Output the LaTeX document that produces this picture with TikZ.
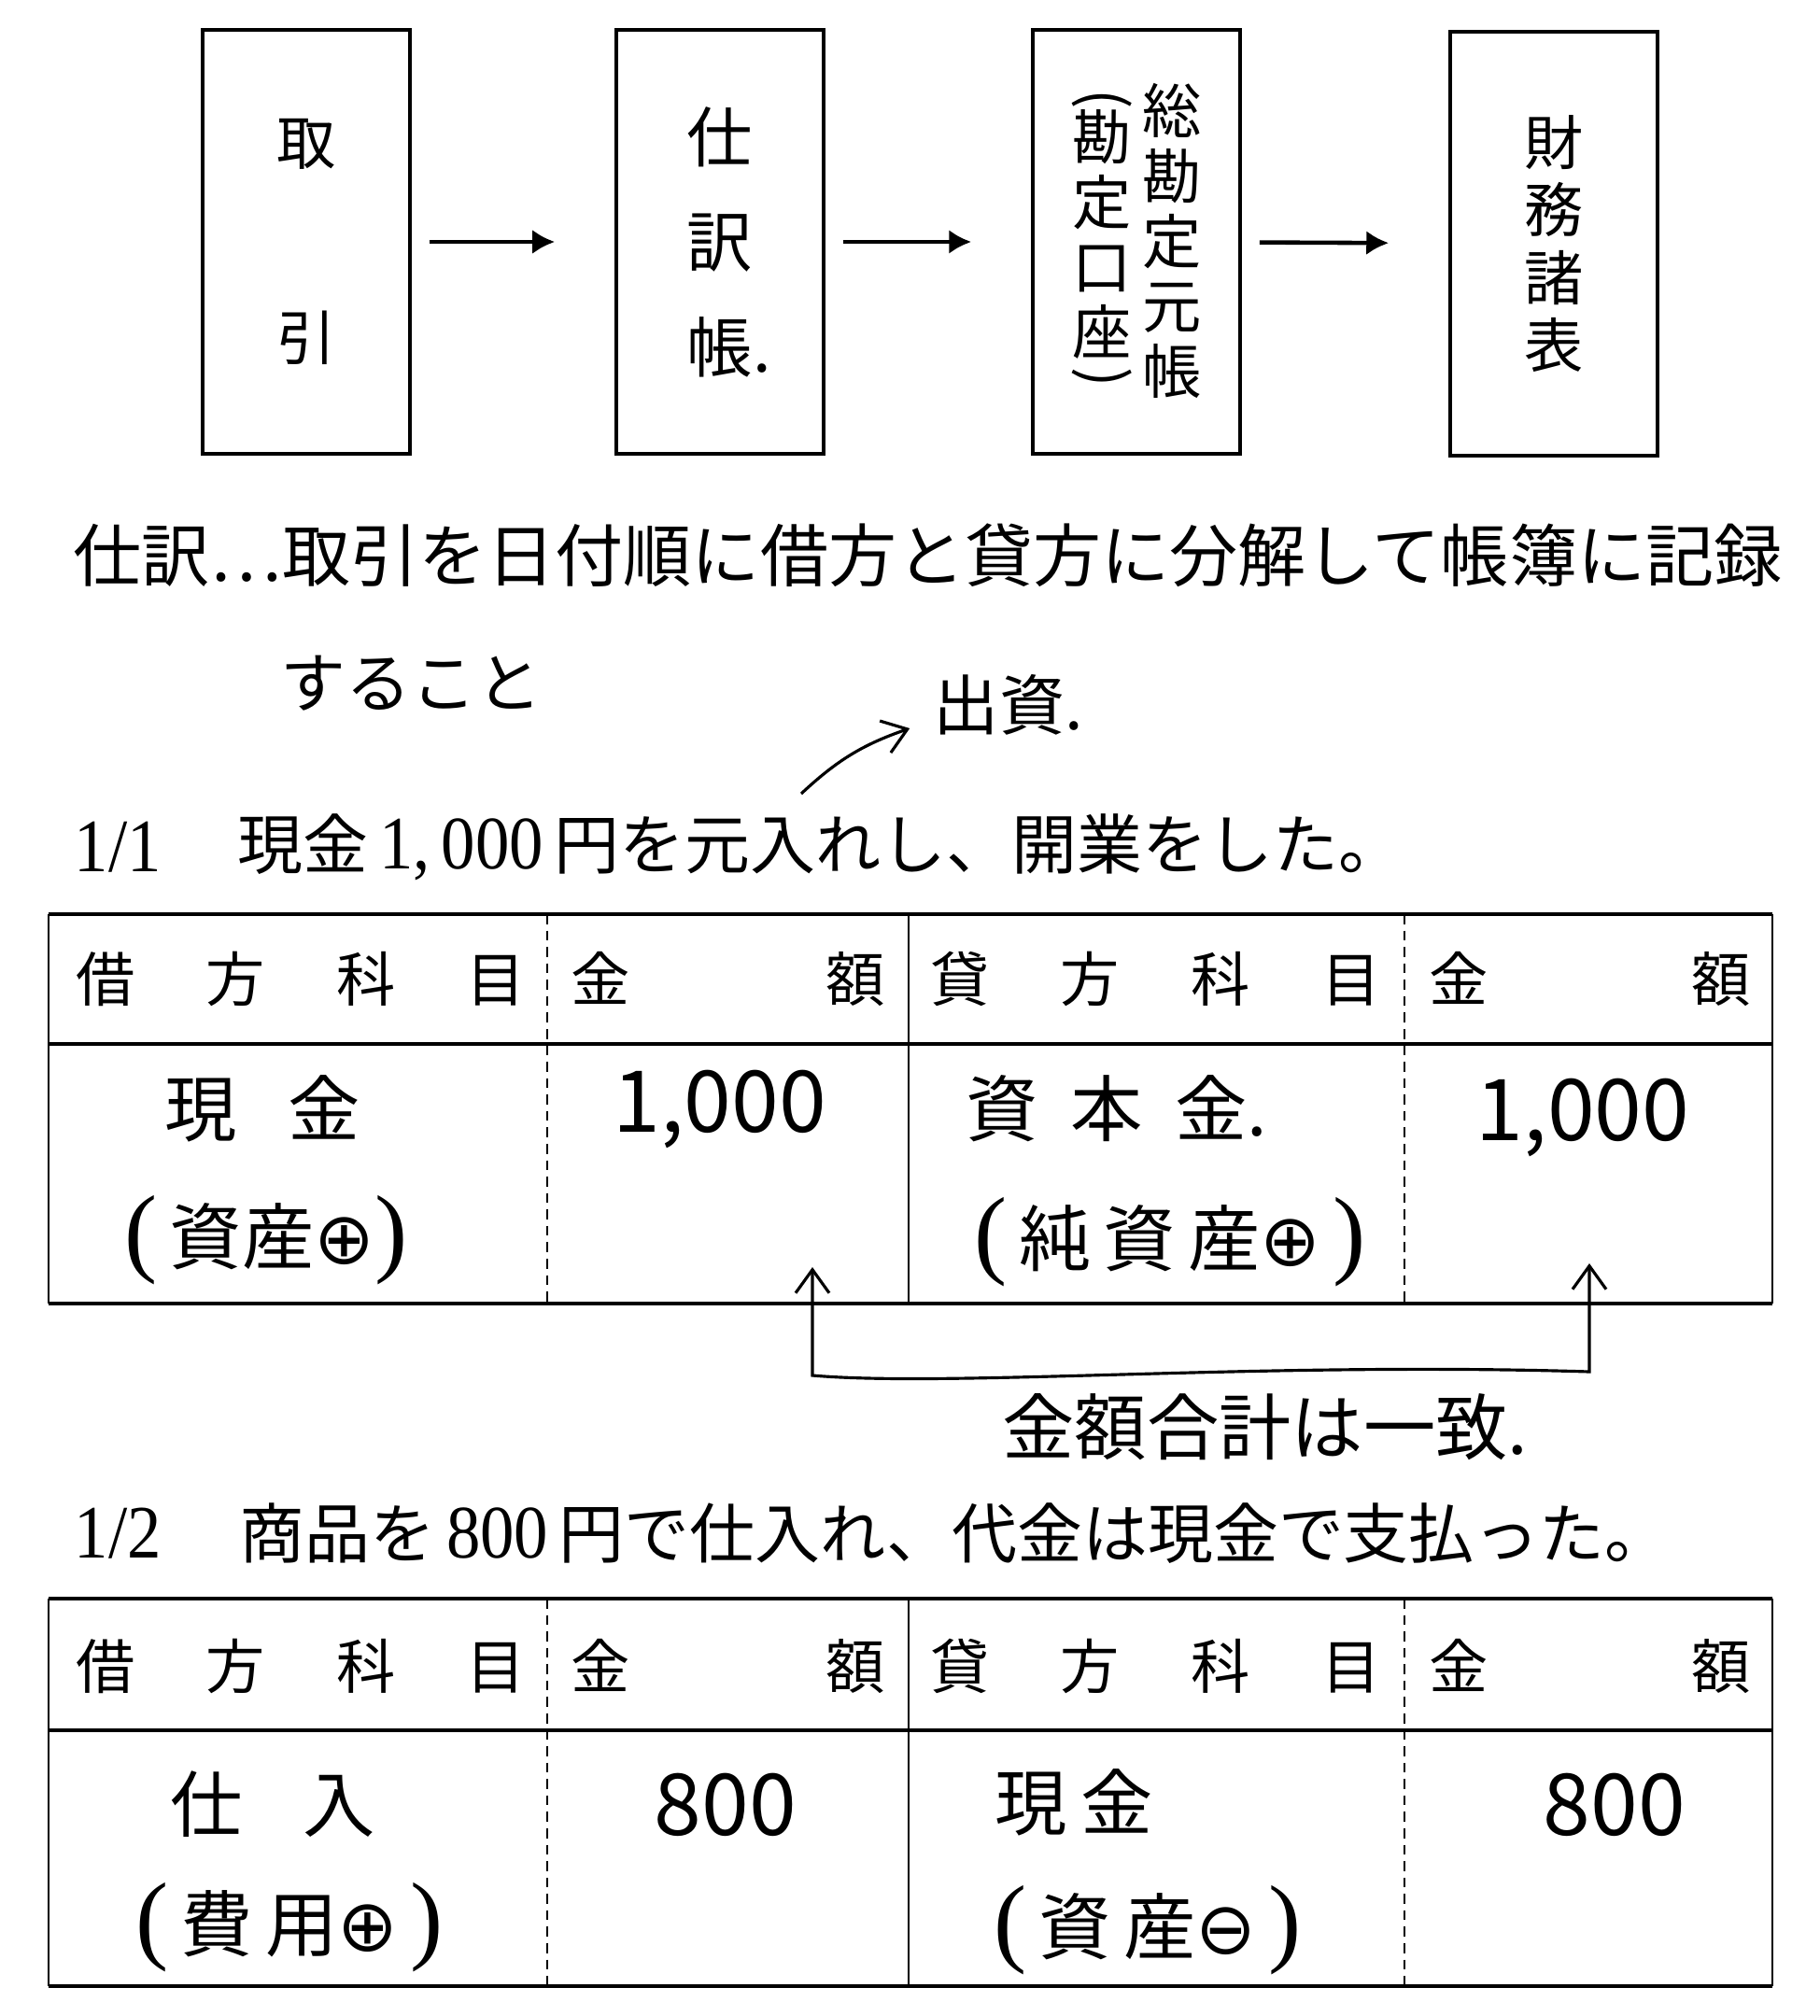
\documentclass[tikz,border=0pt]{standalone}
\usepackage{fontspec}
\setmainfont{Noto Sans CJK JP}
\newfontfamily\latinfont{Liberation Serif}
\newfontfamily\symbfont{DejaVu Sans}
\usetikzlibrary{arrows.meta,positioning}
% printed numbers (tall, narrow) and handwritten brackets / signs
\newcommand{\amt}[1]{{\latinfont\fontsize{23}{23}\selectfont\scalebox{0.9}[1]{#1}}}
\newcommand{\hpar}[1]{{\latinfont\fontsize{30}{30}\selectfont #1}}
\newcommand{\vpar}[1]{\rotatebox[origin=c]{-90}{#1}}
\newcommand{\plusc}{{\symbfont ⊕}}
\newcommand{\minusc}{{\symbfont ⊖}}

\begin{document}
\begin{tikzpicture}[x=1cm,y=-1cm,
    flowbox/.style={draw, line width=1pt, minimum width=2.22cm, minimum height=4.54cm, inner sep=0pt, align=center},
    flowarrow/.style={-{Latex[length=0.24cm,width=0.26cm]}, line width=1.3pt, shorten <=0.19cm, shorten >=0.64cm},
    printed/.style={font=\fontsize{19.9}{22}\selectfont, inner sep=0pt, anchor=west},
    headtext/.style={font=\fontsize{18}{18}\selectfont, inner sep=0pt},
    hand/.style={font=\fontsize{22}{22}\selectfont, inner sep=0pt},
    handnum/.style={font=\fontsize{26}{26}\selectfont, inner sep=0pt},
    rule/.style={line width=1.2pt},
    sideline/.style={line width=0.6pt},
    divider/.style={line width=0.4pt, densely dashed},
    notearrow/.style={-{Straight Barb[length=0.25cm,width=0.36cm]}, line width=0.9pt}]
    \useasboundingbox (0,0) rectangle (19.49,21.59);

    % Flow of the books
    \node[flowbox, font=\fontsize{18}{20}\selectfont] at (3.28,2.59) (deal) {取\\[1.39cm]引};
    \node[flowbox, font=\fontsize{20}{32}\selectfont] at (7.71,2.59) (journal) {仕\\訳\\帳\rlap{.}};
    \node[flowbox] at (12.17,2.59) (ledger) {};
    \node[inner sep=0pt, align=center, font=\fontsize{18}{19.8}\selectfont] at (12.55,2.58) (ledgerMain) {総\\勘\\定\\元\\帳};
    \node[inner sep=0pt, align=center, font=\fontsize{18}{19.8}\selectfont] at (11.80,2.60) (ledgerSub) {\vpar{(}\\[-0.25cm]勘\\定\\口\\座\\[-0.25cm]\vpar{)}};
    \node[flowbox, font=\fontsize{18}{20.6}\selectfont] at (16.64,2.61) (statements) {財\\務\\諸\\表};

    \draw[flowarrow] (deal) -- (journal);
    \draw[flowarrow] (journal) -- (ledger);
    \draw[flowarrow] (ledger) -- (statements);

    % Definition
    \node[printed, font=\fontsize{20.8}{24}\selectfont] at (0.78,5.95) (defn) {仕訳…取引を日付順に借方と貸方に分解して帳簿に記録};
    \node[printed] at (3.00,7.32) (defnEnd) {すること};

    % 1/1
    \node[printed] at (0.79,9.07) (dateA) {\amt{1/1}};
    \node[printed] at (2.54,9.07) (caseA) {現金\,\amt{1,\,000}\,円を元入れし、開業をした。};
    \node[hand, font=\fontsize{20}{20}\selectfont] at (10.80,7.55) (capNote) {出資.};
    \coordinate (capStart) at (8.58,8.50);
    \draw[notearrow] (capStart) to[bend left=12] ([shift={(-0.25,0.25)}]capNote.west);

    \draw[rule] (0.52,9.79) -- (18.98,9.79);
    \draw[rule] (0.52,11.18) -- (18.98,11.18);
    \draw[rule] (0.52,13.96) -- (18.98,13.96);
    \draw[sideline] (0.52,9.79) -- (0.52,13.96);
    \draw[sideline] (9.73,9.79) -- (9.73,13.96);
    \draw[sideline] (18.98,9.79) -- (18.98,13.96);
    \draw[divider] (5.86,9.79) -- (5.86,13.96);
    \draw[divider] (15.04,9.79) -- (15.04,13.96);

    \node[headtext] at (3.22,10.48) (drHeadA) {\makebox[4.815cm]{借\hfill 方\hfill 科\hfill 目}};
    \node[headtext] at (7.795,10.48) (drAmtHeadA) {\makebox[3.365cm]{金\hfill 額}};
    \node[headtext] at (12.375,10.48) (crHeadA) {\makebox[4.825cm]{貸\hfill 方\hfill 科\hfill 目}};
    \node[headtext] at (17.025,10.48) (crAmtHeadA) {\makebox[3.445cm]{金\hfill 額}};

    \node[hand] at (2.81,11.87) (cashA) {現\hspace{0.55cm}金};
    \node[hand] at (2.85,13.28) (cashNoteA) {\hpar{(}\,資産\plusc\hpar{)}};
    \node[handnum] at (7.71,11.88) (drAmtA) {1,000};
    \node[hand] at (11.85,11.87) (capital) {資\hspace{0.35cm}本\hspace{0.35cm}金\rlap{.}};
    \node[hand] at (12.53,13.30) (capitalNote) {\hpar{(}\,純\,資\,産\plusc\,\hpar{)}};
    \node[handnum] at (16.95,11.97) (crAmtA) {1,000};

    % totals agree
    \coordinate (tipL) at (8.70,13.57);
    \coordinate (tipR) at (17.02,13.53);
    \coordinate (sumL) at (8.70,14.73);
    \coordinate (sumR) at (17.02,14.69);
    \draw[notearrow, {Straight Barb[length=0.25cm,width=0.36cm]}-{Straight Barb[length=0.25cm,width=0.36cm]}] (tipL) -- (sumL) .. controls (10.2,14.86) and (13.5,14.58) .. (sumR) -- (tipR);
    \node[hand] at (13.55,15.28) (sumNote) {金額合計は一致.};

    % 1/2
    \node[printed] at (0.79,16.42) (dateB) {\amt{1/2}};
    \node[printed] at (2.56,16.42) (caseB) {商品を\,\amt{800}\,円で仕入れ、代金は現金で支払った。};

    \draw[rule] (0.52,17.12) -- (18.98,17.12);
    \draw[rule] (0.52,18.53) -- (18.98,18.53);
    \draw[rule] (0.52,21.27) -- (18.98,21.27);
    \draw[sideline] (0.52,17.12) -- (0.52,21.27);
    \draw[sideline] (9.73,17.12) -- (9.73,21.27);
    \draw[sideline] (18.98,17.12) -- (18.98,21.27);
    \draw[divider] (5.86,17.12) -- (5.86,21.27);
    \draw[divider] (15.04,17.12) -- (15.04,21.27);

    \node[headtext] at (3.22,17.84) (drHeadB) {\makebox[4.815cm]{借\hfill 方\hfill 科\hfill 目}};
    \node[headtext] at (7.795,17.84) (drAmtHeadB) {\makebox[3.365cm]{金\hfill 額}};
    \node[headtext] at (12.375,17.84) (crHeadB) {\makebox[4.825cm]{貸\hfill 方\hfill 科\hfill 目}};
    \node[headtext] at (17.025,17.84) (crAmtHeadB) {\makebox[3.445cm]{金\hfill 額}};

    \node[hand] at (2.92,19.32) (purchase) {仕\hspace{0.65cm}入};
    \node[hand] at (3.10,20.64) (purchaseNote) {\hpar{(}\,費\,用\plusc\,\hpar{)}};
    \node[handnum] at (7.77,19.33) (drAmtB) {800};
    \node[hand] at (11.50,19.30) (cashB) {現\hspace{0.15cm}金};
    \node[hand] at (12.29,20.67) (cashNoteB) {\hpar{(}\,資\,産\minusc\,\hpar{)}};
    \node[handnum] at (17.29,19.33) (crAmtB) {800};
\end{tikzpicture}
\end{document}
